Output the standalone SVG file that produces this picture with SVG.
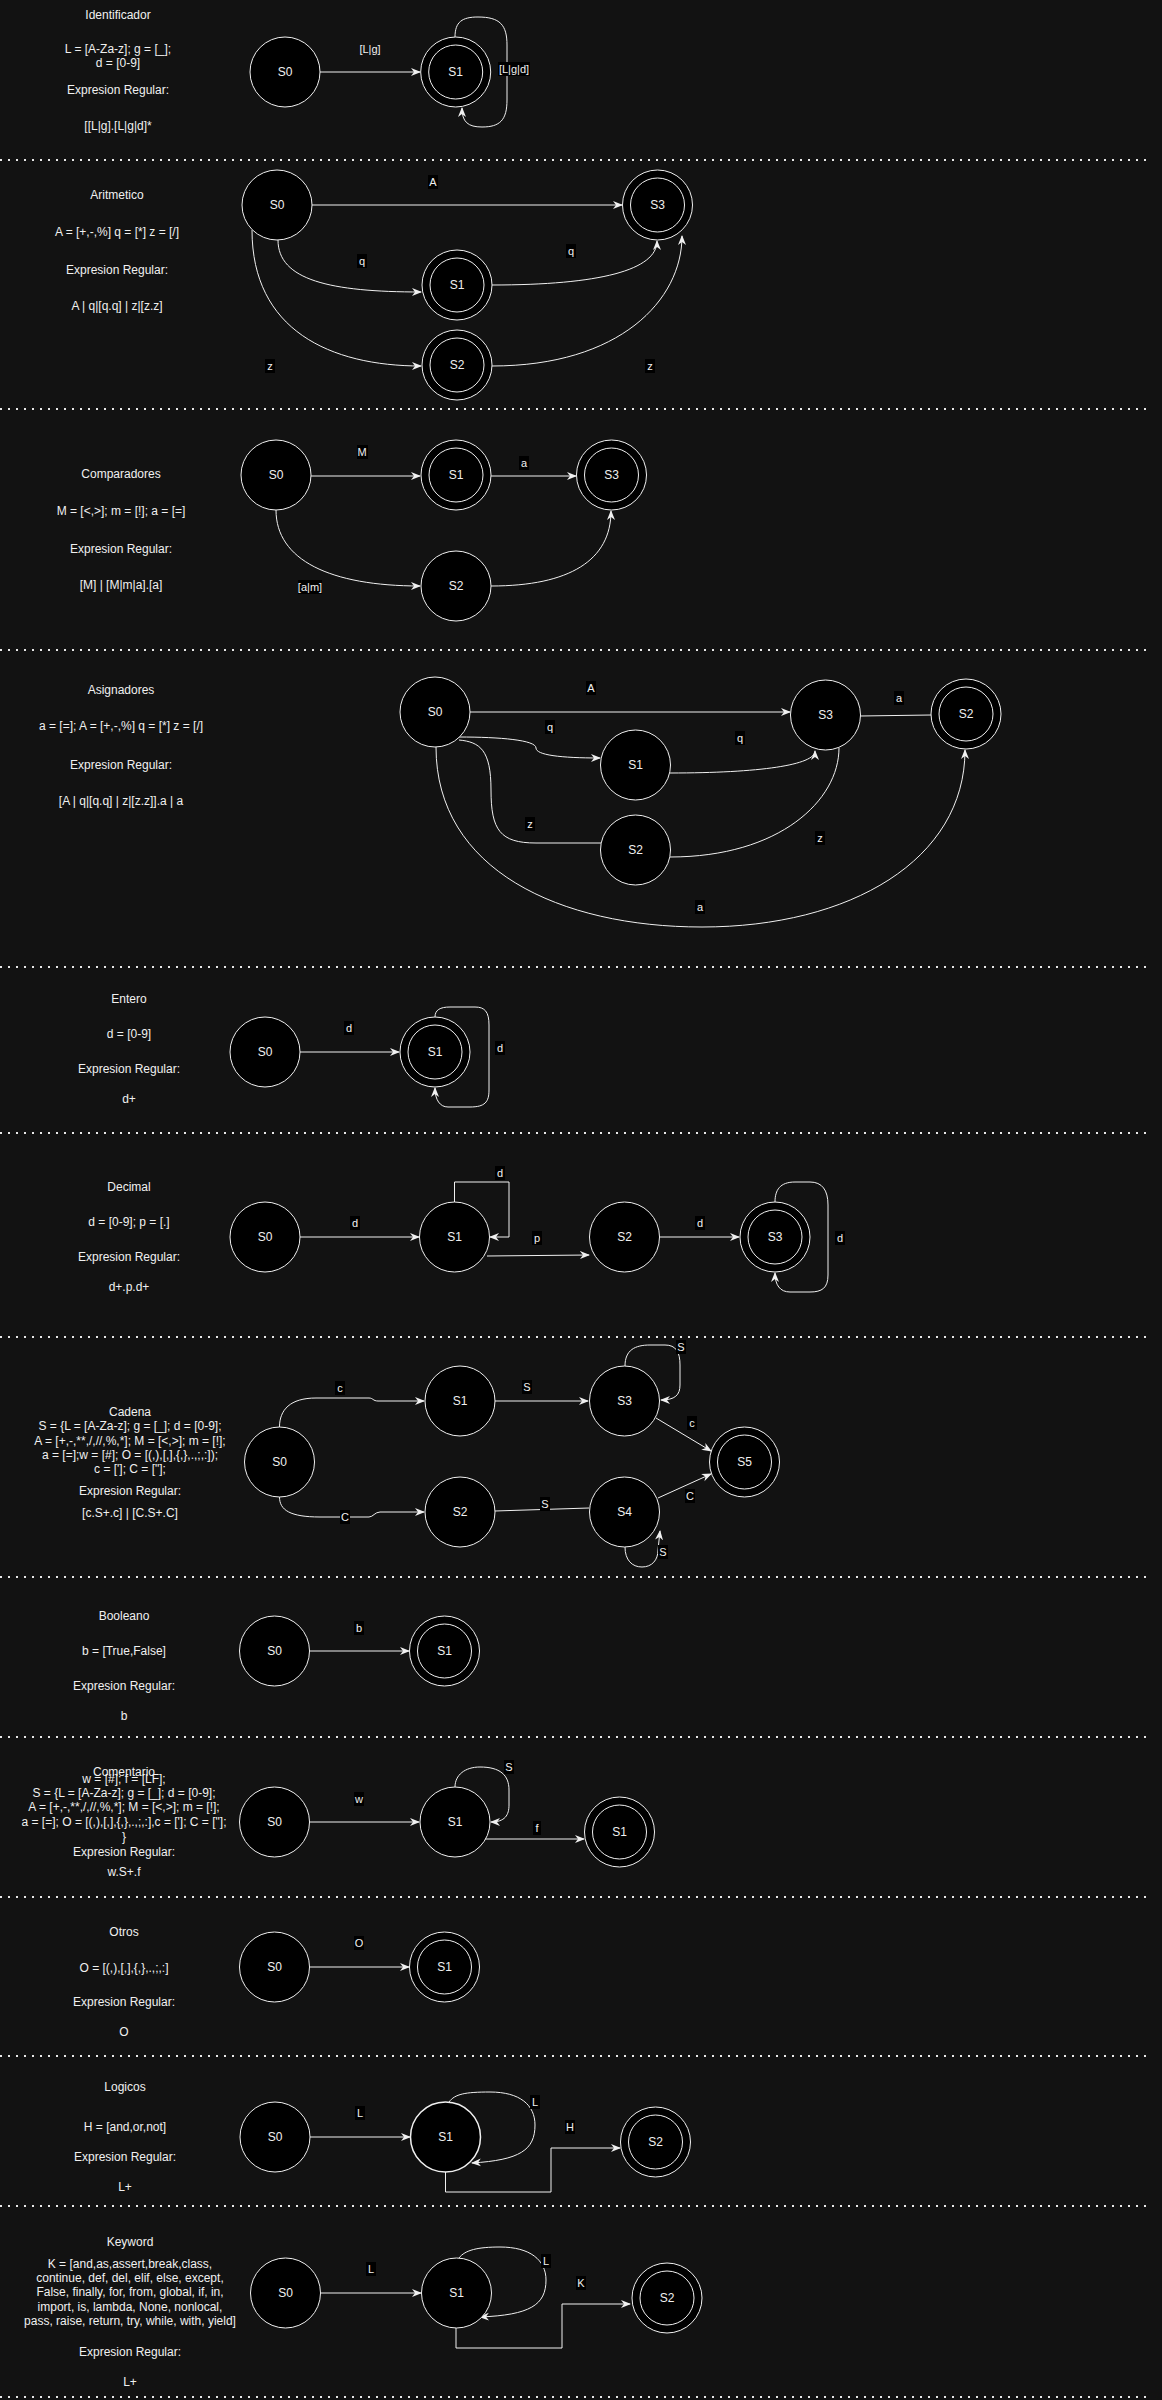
<svg xmlns="http://www.w3.org/2000/svg" width="1162" height="2400" viewBox="0 0 1162 2400">
<style>
.bg{fill:#121212}
.n{fill:#000;stroke:#f0f0f0;stroke-width:1}
.t{font-family:"Liberation Sans",Arial,sans-serif;font-size:12px;fill:#f0f0f0;text-anchor:middle;dominant-baseline:central}
.el{font-family:"Liberation Sans",Arial,sans-serif;font-size:11px;fill:#f0f0f0;text-anchor:middle;dominant-baseline:central}
.e{fill:none;stroke:#f0f0f0;stroke-width:1}
.a{marker-end:url(#arr)}
.lb{fill:#000}
.sep{stroke:#e8e8e8;stroke-width:2;stroke-dasharray:2 6}
</style>
<defs>
<marker id="arr" viewBox="0 0 10 10" refX="9" refY="5" markerWidth="10" markerHeight="10" markerUnits="userSpaceOnUse" orient="auto">
<path d="M0,1 L10,5 L0,9 L3,5 Z" fill="#f0f0f0"/>
</marker>
</defs>
<rect class="bg" x="0" y="0" width="1162" height="2400"/>

<g id="separators">
<line class="sep" x1="0" y1="160" x2="1152" y2="160"/>
<line class="sep" x1="0" y1="409" x2="1152" y2="409"/>
<line class="sep" x1="0" y1="650" x2="1152" y2="650"/>
<line class="sep" x1="0" y1="967" x2="1152" y2="967"/>
<line class="sep" x1="0" y1="1133" x2="1152" y2="1133"/>
<line class="sep" x1="0" y1="1337" x2="1152" y2="1337"/>
<line class="sep" x1="0" y1="1577" x2="1152" y2="1577"/>
<line class="sep" x1="0" y1="1737" x2="1152" y2="1737"/>
<line class="sep" x1="0" y1="1897" x2="1146" y2="1897"/>
<line class="sep" x1="0" y1="2056" x2="1152" y2="2056"/>
<line class="sep" x1="0" y1="2206" x2="1152" y2="2206"/>
<line class="sep" x1="0" y1="2397" x2="1152" y2="2397"/>
</g>

<g id="descriptions">
<g id="desc-identificador">
<text class="t" x="118" y="15">Identificador</text>
<text class="t" x="118" y="49">L = [A-Za-z]; g = [_];</text>
<text class="t" x="118" y="63">d = [0-9]</text>
<text class="t" x="118" y="90">Expresion Regular:</text>
<text class="t" x="118" y="126">[[L|g].[L|g|d]*</text>
</g>
<g id="desc-aritmetico">
<text class="t" x="117" y="195">Aritmetico</text>
<text class="t" x="117" y="232">A = [+,-,%] q = [*] z = [/]</text>
<text class="t" x="117" y="270">Expresion Regular:</text>
<text class="t" x="117" y="306">A | q|[q.q] | z|[z.z]</text>
</g>
<g id="desc-comparadores">
<text class="t" x="121" y="474">Comparadores</text>
<text class="t" x="121" y="511">M = [&lt;,&gt;]; m = [!]; a = [=]</text>
<text class="t" x="121" y="549">Expresion Regular:</text>
<text class="t" x="121" y="585">[M] | [M|m|a].[a]</text>
</g>
<g id="desc-asignadores">
<text class="t" x="121" y="690">Asignadores</text>
<text class="t" x="121" y="726">a = [=]; A = [+,-,%] q = [*] z = [/]</text>
<text class="t" x="121" y="765">Expresion Regular:</text>
<text class="t" x="121" y="801">[A | q|[q.q] | z|[z.z]].a | a</text>
</g>
<g id="desc-entero">
<text class="t" x="129" y="999">Entero</text>
<text class="t" x="129" y="1034">d = [0-9]</text>
<text class="t" x="129" y="1069">Expresion Regular:</text>
<text class="t" x="129" y="1099">d+</text>
</g>
<g id="desc-decimal">
<text class="t" x="129" y="1187">Decimal</text>
<text class="t" x="129" y="1222">d = [0-9]; p = [.]</text>
<text class="t" x="129" y="1257">Expresion Regular:</text>
<text class="t" x="129" y="1287">d+.p.d+</text>
</g>
<g id="desc-cadena">
<text class="t" x="130" y="1412">Cadena</text>
<text class="t" x="130" y="1426">S = {L = [A-Za-z]; g = [_]; d = [0-9];</text>
<text class="t" x="130" y="1441">A = [+,-,**,/,//,%,*]; M = [&lt;,&gt;]; m = [!];</text>
<text class="t" x="130" y="1455">a = [=];w = [#]; O = [(,),[,],{,},.,;,:]);</text>
<text class="t" x="130" y="1469">c = [']; C = ["];</text>
<text class="t" x="130" y="1491">Expresion Regular:</text>
<text class="t" x="130" y="1513">[c.S+.c] | [C.S+.C]</text>
</g>
<g id="desc-booleano">
<text class="t" x="124" y="1616">Booleano</text>
<text class="t" x="124" y="1651">b = [True,False]</text>
<text class="t" x="124" y="1686">Expresion Regular:</text>
<text class="t" x="124" y="1716">b</text>
</g>
<g id="desc-comentario">
<text class="t" x="124" y="1772">Comentario</text>
<text class="t" x="124" y="1779">w = [#]; f = [LF];</text>
<text class="t" x="124" y="1793">S = {L = [A-Za-z]; g = [_]; d = [0-9];</text>
<text class="t" x="124" y="1807">A = [+,-,**,/,//,%,*]; M = [&lt;,&gt;]; m = [!];</text>
<text class="t" x="124" y="1822">a = [=]; O = [(,),[,],{,},.,;,:],c = [']; C = ["];</text>
<text class="t" x="124" y="1837">}</text>
<text class="t" x="124" y="1852">Expresion Regular:</text>
<text class="t" x="124" y="1872">w.S+.f</text>
</g>
<g id="desc-otros">
<text class="t" x="124" y="1932">Otros</text>
<text class="t" x="124" y="1968">O = [(,),[,],{,},.,;,:]</text>
<text class="t" x="124" y="2002">Expresion Regular:</text>
<text class="t" x="124" y="2032">O</text>
</g>
<g id="desc-logicos">
<text class="t" x="125" y="2087">Logicos</text>
<text class="t" x="125" y="2127">H = [and,or,not]</text>
<text class="t" x="125" y="2157">Expresion Regular:</text>
<text class="t" x="125" y="2187">L+</text>
</g>
<g id="desc-keyword">
<text class="t" x="130" y="2242">Keyword</text>
<text class="t" x="130" y="2264">K = [and,as,assert,break,class,</text>
<text class="t" x="130" y="2278">continue, def, del, elif, else, except,</text>
<text class="t" x="130" y="2292">False, finally, for, from, global, if, in,</text>
<text class="t" x="130" y="2307">import, is, lambda, None, nonlocal,</text>
<text class="t" x="130" y="2321">pass, raise, return, try, while, with, yield]</text>
<text class="t" x="130" y="2352">Expresion Regular:</text>
<text class="t" x="130" y="2382">L+</text>
</g>
</g>

<g id="connectors">
<path class="e a" d="M320,72 L420,72"/>
<path class="e a" d="M455,37 C455,22 462,17 478,17 C500,17 507,25 507,45 L507,100 C507,120 500,127 482,127 C468,127 462,122 462,108"/>
<path class="e a" d="M312,205 L622,205"/>
<path class="e a" d="M278,240 C278,280 330,292 421,292"/>
<path class="e a" d="M492,285 C600,285 657,270 657,241"/>
<path class="e a" d="M252,230 C252,330 330,366 421,366"/>
<path class="e a" d="M492,366 C620,366 682,300 682,236"/>
<path class="e a" d="M311,476 L420,476"/>
<path class="e a" d="M491,476 L576,476"/>
<path class="e a" d="M276,510 C276,560 330,586 420,586"/>
<path class="e a" d="M491,586 C570,586 611,560 611,511"/>
<path class="e a" d="M470,712 L790,712"/>
<path class="e a" d="M459,737 C500,737 536,740 536,748 C536,755 560,758 600,758"/>
<path class="e" d="M459,740 C480,742 491,750 491,790 C491,830 500,843 536,843 L601,843"/>
<path class="e a" d="M670,773 C760,773 815,765 815,751"/>
<path class="e" d="M670,857 C780,857 839,800 839,748"/>
<path class="e" d="M860,716 L931,715"/>
<path class="e a" d="M436,747 C436,870 560,927 702,927 C850,927 965,860 965,750"/>
<path class="e a" d="M300,1052 L399,1052"/>
<path class="e a" d="M435,1017 C435,1010 440,1007 450,1007 L475,1007 C485,1007 489,1012 489,1025 L489,1090 C489,1102 485,1107 470,1107 L448,1107 C440,1107 435,1100 435,1088"/>
<path class="e a" d="M300,1237 L419,1237"/>
<path class="e a" d="M454.5,1202 L454.5,1182 L509,1182 L509,1237 L490,1237"/>
<path class="e a" d="M487,1256 L589,1255"/>
<path class="e a" d="M659,1237 L739,1237"/>
<path class="e a" d="M775,1202 C775,1190 780,1182 795,1182 L810,1182 C822,1182 828,1190 828,1205 L828,1275 C828,1288 822,1292 810,1292 L790,1292 C780,1292 775,1285 775,1273"/>
<path class="e a" d="M279.5,1427 C279.5,1410 290,1398 316,1398 L369,1398 C373,1398 373,1401 378,1401 L424,1401"/>
<path class="e a" d="M495,1401 L588,1401"/>
<path class="e a" d="M625,1366 C625,1350 635,1345 650,1345 L665,1345 C676,1345 680,1352 680,1365 L680,1385 C680,1395 675,1400 661,1400"/>
<path class="e a" d="M656,1418 L711,1451"/>
<path class="e a" d="M279.5,1497 C279.5,1510 290,1517 320,1517 L369,1517 C373,1517 375,1512 380,1512 L424,1512"/>
<path class="e" d="M495,1511 L589,1508"/>
<path class="e a" d="M658,1498 L711,1474"/>
<path class="e a" d="M625,1547 C625,1560 632,1567 642,1567 C652,1567 658,1560 658,1550 L660,1531"/>
<path class="e a" d="M309,1651 L409,1651"/>
<path class="e a" d="M309,1822 L419,1822"/>
<path class="e a" d="M455,1787 C455,1775 465,1767 480,1767 C500,1767 509,1775 509,1790 L509,1805 C509,1815 505,1822 491,1822"/>
<path class="e a" d="M485,1839 L584,1839"/>
<path class="e a" d="M309,1967 L409,1967"/>
<path class="e a" d="M310,2137 L410,2137"/>
<path class="e a" d="M449,2102 C455,2094 465,2092 490,2092 C520,2092 535,2105 535,2125 C535,2150 520,2160 472,2163"/>
<path class="e a" d="M445.5,2172 L445.5,2192 L551,2192 L551,2148 L620,2148"/>
<path class="e a" d="M321,2293 L421,2293"/>
<path class="e a" d="M459,2258 C465,2250 478,2247 500,2247 C530,2247 546,2260 546,2280 C546,2305 530,2315 480,2317"/>
<path class="e a" d="M456,2328 L456,2348 L562,2348 L562,2304 L630,2304"/>
</g>

<g id="edge-labels">
<text class="el" x="370" y="49">[L|g]</text>
<rect class="lb" x="498" y="62" width="32" height="14"/><text class="el" x="514" y="69">[L|g|d]</text>
<rect class="lb" x="428" y="175" width="10" height="14"/><text class="el" x="433" y="182">A</text>
<rect class="lb" x="357" y="254" width="10" height="14"/><text class="el" x="362" y="261">q</text>
<rect class="lb" x="566" y="244" width="10" height="14"/><text class="el" x="571" y="251">q</text>
<rect class="lb" x="265" y="359" width="10" height="14"/><text class="el" x="270" y="366">z</text>
<rect class="lb" x="645" y="359" width="10" height="14"/><text class="el" x="650" y="366">z</text>
<rect class="lb" x="357" y="445" width="11" height="14"/><text class="el" x="362" y="452">M</text>
<rect class="lb" x="519" y="456" width="10" height="14"/><text class="el" x="524" y="463">a</text>
<rect class="lb" x="298" y="580" width="24" height="14"/><text class="el" x="310" y="587">[a|m]</text>
<rect class="lb" x="586" y="681" width="10" height="14"/><text class="el" x="591" y="688">A</text>
<rect class="lb" x="545" y="720" width="10" height="14"/><text class="el" x="550" y="727">q</text>
<rect class="lb" x="525" y="817" width="10" height="14"/><text class="el" x="530" y="824">z</text>
<rect class="lb" x="735" y="731" width="10" height="14"/><text class="el" x="740" y="738">q</text>
<rect class="lb" x="815" y="831" width="10" height="14"/><text class="el" x="820" y="838">z</text>
<rect class="lb" x="894" y="691" width="10" height="14"/><text class="el" x="899" y="698">a</text>
<rect class="lb" x="695" y="900" width="10" height="14"/><text class="el" x="700" y="907">a</text>
<rect class="lb" x="344" y="1021" width="10" height="14"/><text class="el" x="349" y="1028">d</text>
<rect class="lb" x="495" y="1041" width="10" height="14"/><text class="el" x="500" y="1048">d</text>
<rect class="lb" x="350" y="1216" width="10" height="14"/><text class="el" x="355" y="1223">d</text>
<rect class="lb" x="495" y="1166" width="10" height="14"/><text class="el" x="500" y="1173">d</text>
<rect class="lb" x="532" y="1231" width="10" height="14"/><text class="el" x="537" y="1238">p</text>
<rect class="lb" x="695" y="1216" width="10" height="14"/><text class="el" x="700" y="1223">d</text>
<rect class="lb" x="835" y="1231" width="10" height="14"/><text class="el" x="840" y="1238">d</text>
<rect class="lb" x="335" y="1381" width="10" height="14"/><text class="el" x="340" y="1388">c</text>
<rect class="lb" x="522" y="1380" width="10" height="14"/><text class="el" x="527" y="1387">S</text>
<rect class="lb" x="676" y="1340" width="10" height="14"/><text class="el" x="681" y="1347">S</text>
<rect class="lb" x="687" y="1416" width="10" height="14"/><text class="el" x="692" y="1423">c</text>
<rect class="lb" x="340" y="1510" width="10" height="14"/><text class="el" x="345" y="1517">C</text>
<rect class="lb" x="540" y="1497" width="10" height="14"/><text class="el" x="545" y="1504">S</text>
<rect class="lb" x="685" y="1489" width="10" height="14"/><text class="el" x="690" y="1496">C</text>
<rect class="lb" x="658" y="1545" width="10" height="14"/><text class="el" x="663" y="1552">S</text>
<rect class="lb" x="354" y="1621" width="10" height="14"/><text class="el" x="359" y="1628">b</text>
<rect class="lb" x="354" y="1792" width="10" height="14"/><text class="el" x="359" y="1799">w</text>
<rect class="lb" x="504" y="1760" width="10" height="14"/><text class="el" x="509" y="1767">S</text>
<rect class="lb" x="533" y="1821" width="8" height="14"/><text class="el" x="537" y="1828">f</text>
<rect class="lb" x="354" y="1936" width="10" height="14"/><text class="el" x="359" y="1943">O</text>
<rect class="lb" x="355" y="2106" width="10" height="14"/><text class="el" x="360" y="2113">L</text>
<rect class="lb" x="530" y="2095" width="10" height="14"/><text class="el" x="535" y="2102">L</text>
<rect class="lb" x="565" y="2120" width="10" height="14"/><text class="el" x="570" y="2127">H</text>
<rect class="lb" x="366" y="2262" width="10" height="14"/><text class="el" x="371" y="2269">L</text>
<rect class="lb" x="541" y="2254" width="10" height="14"/><text class="el" x="546" y="2261">L</text>
<rect class="lb" x="576" y="2276" width="10" height="14"/><text class="el" x="581" y="2283">K</text>
</g>

<g id="nodes">
<g id="id-s0"><circle class="n" cx="285" cy="72" r="35"/><text class="t" x="285" y="72">S0</text></g>
<g id="id-s1"><circle class="n" cx="455.7" cy="72" r="35"/><circle class="n" cx="455.7" cy="72" r="27"/><text class="t" x="455.7" y="72">S1</text></g>
<g id="ar-s0"><circle class="n" cx="277" cy="205" r="35"/><text class="t" x="277" y="205">S0</text></g>
<g id="ar-s3"><circle class="n" cx="657.5" cy="205" r="35"/><circle class="n" cx="657.5" cy="205" r="27"/><text class="t" x="657.5" y="205">S3</text></g>
<g id="ar-s1"><circle class="n" cx="457" cy="285" r="35"/><circle class="n" cx="457" cy="285" r="27"/><text class="t" x="457" y="285">S1</text></g>
<g id="ar-s2"><circle class="n" cx="457" cy="365" r="35"/><circle class="n" cx="457" cy="365" r="27"/><text class="t" x="457" y="365">S2</text></g>
<g id="co-s0"><circle class="n" cx="276" cy="475" r="35"/><text class="t" x="276" y="475">S0</text></g>
<g id="co-s1"><circle class="n" cx="456" cy="475" r="35"/><circle class="n" cx="456" cy="475" r="27"/><text class="t" x="456" y="475">S1</text></g>
<g id="co-s3"><circle class="n" cx="611.5" cy="475" r="35"/><circle class="n" cx="611.5" cy="475" r="27"/><text class="t" x="611.5" y="475">S3</text></g>
<g id="co-s2"><circle class="n" cx="456" cy="586" r="35"/><text class="t" x="456" y="586">S2</text></g>
<g id="as-s0"><circle class="n" cx="435" cy="712" r="35"/><text class="t" x="435" y="712">S0</text></g>
<g id="as-s3"><circle class="n" cx="825.5" cy="715" r="35"/><text class="t" x="825.5" y="715">S3</text></g>
<g id="as-s2f"><circle class="n" cx="966" cy="714" r="35"/><circle class="n" cx="966" cy="714" r="27"/><text class="t" x="966" y="714">S2</text></g>
<g id="as-s1"><circle class="n" cx="635.5" cy="765" r="35"/><text class="t" x="635.5" y="765">S1</text></g>
<g id="as-s2"><circle class="n" cx="635.5" cy="850" r="35"/><text class="t" x="635.5" y="850">S2</text></g>
<g id="en-s0"><circle class="n" cx="265" cy="1052" r="35"/><text class="t" x="265" y="1052">S0</text></g>
<g id="en-s1"><circle class="n" cx="435" cy="1052" r="35"/><circle class="n" cx="435" cy="1052" r="27"/><text class="t" x="435" y="1052">S1</text></g>
<g id="de-s0"><circle class="n" cx="265" cy="1237" r="35"/><text class="t" x="265" y="1237">S0</text></g>
<g id="de-s1"><circle class="n" cx="454.5" cy="1237" r="35"/><text class="t" x="454.5" y="1237">S1</text></g>
<g id="de-s2"><circle class="n" cx="624.5" cy="1237" r="35"/><text class="t" x="624.5" y="1237">S2</text></g>
<g id="de-s3"><circle class="n" cx="775" cy="1237" r="35"/><circle class="n" cx="775" cy="1237" r="27"/><text class="t" x="775" y="1237">S3</text></g>
<g id="ca-s0"><circle class="n" cx="279.5" cy="1462" r="35"/><text class="t" x="279.5" y="1462">S0</text></g>
<g id="ca-s1"><circle class="n" cx="460" cy="1401" r="35"/><text class="t" x="460" y="1401">S1</text></g>
<g id="ca-s3"><circle class="n" cx="624.5" cy="1401" r="35"/><text class="t" x="624.5" y="1401">S3</text></g>
<g id="ca-s2"><circle class="n" cx="460" cy="1512" r="35"/><text class="t" x="460" y="1512">S2</text></g>
<g id="ca-s4"><circle class="n" cx="624.5" cy="1512" r="35"/><text class="t" x="624.5" y="1512">S4</text></g>
<g id="ca-s5"><circle class="n" cx="744.5" cy="1462" r="35"/><circle class="n" cx="744.5" cy="1462" r="27"/><text class="t" x="744.5" y="1462">S5</text></g>
<g id="bo-s0"><circle class="n" cx="274.5" cy="1651" r="35"/><text class="t" x="274.5" y="1651">S0</text></g>
<g id="bo-s1"><circle class="n" cx="444.5" cy="1651" r="35"/><circle class="n" cx="444.5" cy="1651" r="27"/><text class="t" x="444.5" y="1651">S1</text></g>
<g id="cm-s0"><circle class="n" cx="274.5" cy="1822" r="35"/><text class="t" x="274.5" y="1822">S0</text></g>
<g id="cm-s1"><circle class="n" cx="455" cy="1822" r="35"/><text class="t" x="455" y="1822">S1</text></g>
<g id="cm-s1f"><circle class="n" cx="619.5" cy="1832" r="35"/><circle class="n" cx="619.5" cy="1832" r="27"/><text class="t" x="619.5" y="1832">S1</text></g>
<g id="ot-s0"><circle class="n" cx="274.5" cy="1967" r="35"/><text class="t" x="274.5" y="1967">S0</text></g>
<g id="ot-s1"><circle class="n" cx="444.5" cy="1967" r="35"/><circle class="n" cx="444.5" cy="1967" r="27"/><text class="t" x="444.5" y="1967">S1</text></g>
<g id="lo-s0"><circle class="n" cx="275" cy="2137" r="35"/><text class="t" x="275" y="2137">S0</text></g>
<g id="lo-s1"><circle class="n" cx="445.5" cy="2137" r="35" style="stroke-width:1.5"/><text class="t" x="445.5" y="2137">S1</text></g>
<g id="lo-s2"><circle class="n" cx="655.5" cy="2142" r="35"/><circle class="n" cx="655.5" cy="2142" r="27"/><text class="t" x="655.5" y="2142">S2</text></g>
<g id="kw-s0"><circle class="n" cx="285.5" cy="2293" r="35"/><text class="t" x="285.5" y="2293">S0</text></g>
<g id="kw-s1"><circle class="n" cx="456.5" cy="2293" r="35"/><text class="t" x="456.5" y="2293">S1</text></g>
<g id="kw-s2"><circle class="n" cx="667" cy="2298" r="35"/><circle class="n" cx="667" cy="2298" r="27"/><text class="t" x="667" y="2298">S2</text></g>
</g>
</svg>
